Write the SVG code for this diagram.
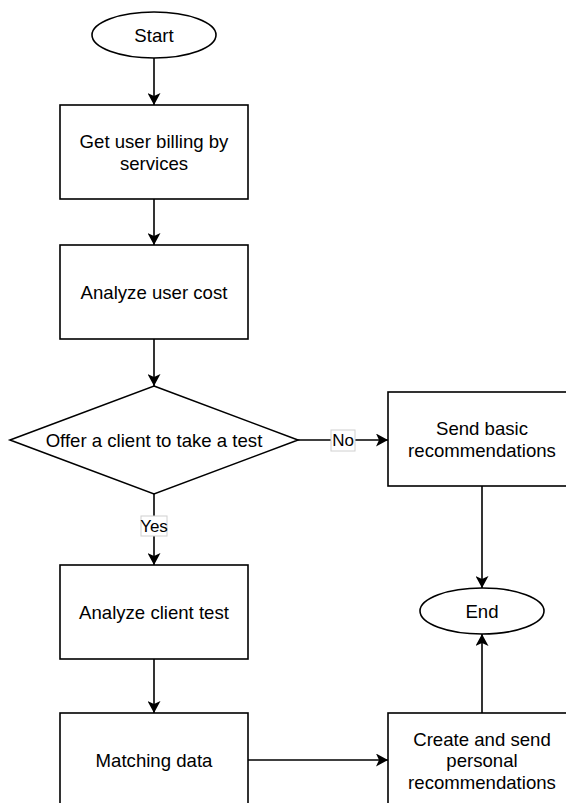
<svg xmlns="http://www.w3.org/2000/svg" width="566" height="803" viewBox="0 0 566 803">
<style>
.s{fill:#fff;stroke:#000;stroke-width:1.6}
.t{font-family:"Liberation Sans",Arial,sans-serif;font-size:18.6px;fill:#000;text-anchor:middle;dominant-baseline:central}
.l{font-family:"Liberation Sans",Arial,sans-serif;font-size:17px;fill:#000;text-anchor:middle;dominant-baseline:central}
.c{fill:none;stroke:#000;stroke-width:1.6}
.lb{fill:#fff;stroke:#d0d0d0;stroke-width:1}
</style>
<defs>
<marker id="a" viewBox="0 0 12 13" refX="12" refY="6.5" markerWidth="12" markerHeight="13" markerUnits="userSpaceOnUse" orient="auto">
<path d="M0,0 L12,6.5 L0,13 L3,6.5 Z" fill="#000"/>
</marker>
</defs>
<rect width="566" height="803" fill="#fff"/>
<g id="connectors">
<path class="c" d="M154,58 V105" marker-end="url(#a)"/>
<path class="c" d="M154,199 V245" marker-end="url(#a)"/>
<path class="c" d="M154,339 V386" marker-end="url(#a)"/>
<path class="c" d="M298,440 H388" marker-end="url(#a)"/>
<path class="c" d="M154,494 V565" marker-end="url(#a)"/>
<path class="c" d="M154,659 V713" marker-end="url(#a)"/>
<path class="c" d="M248,760 H388" marker-end="url(#a)"/>
<path class="c" d="M482,713 V634" marker-end="url(#a)"/>
<path class="c" d="M482,486 V588" marker-end="url(#a)"/>
<g id="label-no"><rect class="lb" x="331" y="430" width="24" height="21"/><text class="l" x="343" y="440.5">No</text></g>
<g id="label-yes"><rect class="lb" x="141" y="516" width="26" height="20"/><text class="l" x="154" y="526">Yes</text></g>
</g>
<g id="start"><ellipse class="s" cx="154" cy="35" rx="62" ry="23"/><text class="t" x="154" y="35">Start</text></g>
<g id="get-billing"><rect class="s" x="60" y="105" width="188" height="94"/><text class="t" x="154" y="141">Get user billing by</text><text class="t" x="154" y="163">services</text></g>
<g id="analyze-cost"><rect class="s" x="60" y="245" width="188" height="94"/><text class="t" x="154" y="292">Analyze user cost</text></g>
<g id="offer-test"><polygon class="s" points="154,386 298,440 154,494 10,440"/><text class="t" x="154" y="440">Offer a client to take a test</text></g>
<g id="send-basic"><rect class="s" x="388" y="392" width="188" height="94"/><text class="t" x="482" y="428">Send basic</text><text class="t" x="482" y="450">recommendations</text></g>
<g id="analyze-test"><rect class="s" x="60" y="565" width="188" height="94"/><text class="t" x="154" y="612">Analyze client test</text></g>
<g id="end"><ellipse class="s" cx="482" cy="611" rx="62" ry="23"/><text class="t" x="482" y="611">End</text></g>
<g id="matching"><rect class="s" x="60" y="713" width="188" height="94"/><text class="t" x="154" y="760">Matching data</text></g>
<g id="create-send"><rect class="s" x="388" y="713" width="188" height="94"/><text class="t" x="482" y="739">Create and send</text><text class="t" x="482" y="760">personal</text><text class="t" x="482" y="782">recommendations</text></g>
</svg>
